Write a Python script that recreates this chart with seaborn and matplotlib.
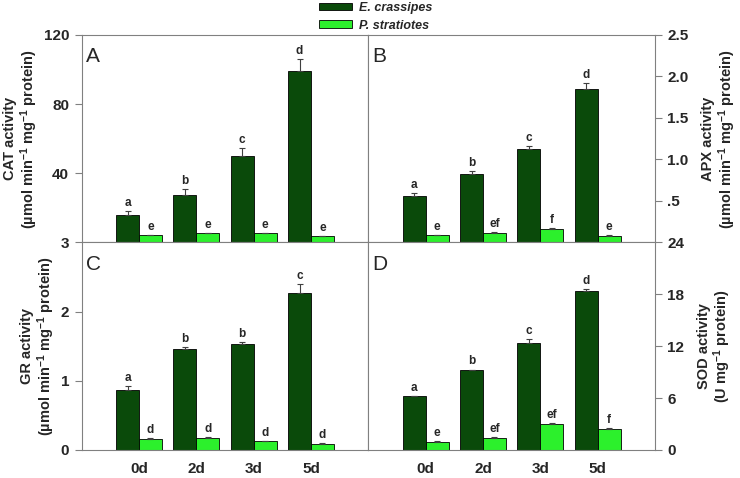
import numpy as np
import pandas as pd
import matplotlib
matplotlib.use("Agg")
import matplotlib.pyplot as plt
import seaborn as sns

days = ["0d", "2d", "3d", "5d"]
species = ["E. crassipes", "P. stratiotes"]

# CAT (panel A)
cat_ec = [16.1, 27.7, 50.3, 99.3]
cat_ec_err = [2.1, 3.1, 4.5, 6.8]
cat_ps = [4.1, 5.4, 5.4, 3.5]
cat_ps_err = [0.4, 0.3, 0.3, 0.2]
cat_ec_let = ["a", "b", "c", "d"]
cat_ps_let = ["e", "e", "e", "e"]

# APX (panel B)
apx_ec = [0.556, 0.831, 1.129, 1.855]
apx_ec_err = [0.041, 0.032, 0.028, 0.064]
apx_ps = [0.085, 0.117, 0.166, 0.077]
apx_ps_err = [0.010, 0.006, 0.005, 0.008]
apx_ec_let = ["a", "b", "c", "d"]
apx_ps_let = ["e", "ef", "f", "e"]

# GR (panel C)
gr_ec = [0.871, 1.461, 1.538, 2.264]
gr_ec_err = [0.058, 0.030, 0.025, 0.141]
gr_ps = [0.155, 0.179, 0.130, 0.092]
gr_ps_err = [0.015, 0.011, 0.005, 0.005]
gr_ec_let = ["a", "b", "b", "c"]
gr_ps_let = ["d", "d", "d", "d"]

# SOD (panel D)
sod_ec = [6.19, 9.21, 12.43, 18.35]
sod_ec_err = [0.05, 0.09, 0.43, 0.31]
sod_ps = [0.89, 1.36, 2.98, 2.40]
sod_ps_err = [0.16, 0.09, 0.12, 0.15]
sod_ec_let = ["a", "b", "c", "d"]
sod_ps_let = ["e", "ef", "ef", "f"]

dark = "#0a4a0a"
light = "#2cf02c"
spine_col = "#808080"

sns.set_theme(style="ticks")
plt.rcParams["font.family"] = ["Liberation Sans", "DejaVu Sans"]
plt.rcParams["font.weight"] = "bold"
plt.rcParams["mathtext.fontset"] = "custom"
plt.rcParams["mathtext.rm"] = "Liberation Sans:bold"
plt.rcParams["mathtext.it"] = "Liberation Sans:bold:italic"
plt.rcParams["mathtext.bf"] = "Liberation Sans:bold"

unit = r"(µmol min$^{-1}$ mg$^{-1}$ protein)"
panels = [
    dict(ec=cat_ec, ece=cat_ec_err, ps=cat_ps, pse=cat_ps_err, el=cat_ec_let, pl=cat_ps_let,
         ylim=(0, 120), ticks=[40, 80, 120], labels=["40", "80", "120"],
         ylabel="CAT activity\n" + unit, side="left", tag="A"),
    dict(ec=apx_ec, ece=apx_ec_err, ps=apx_ps, pse=apx_ps_err, el=apx_ec_let, pl=apx_ps_let,
         ylim=(0, 2.5), ticks=[0.5, 1.0, 1.5, 2.0, 2.5], labels=[".5", "1.0", "1.5", "2.0", "2.5"],
         ylabel="APX activity\n" + unit, side="right", tag="B"),
    dict(ec=gr_ec, ece=gr_ec_err, ps=gr_ps, pse=gr_ps_err, el=gr_ec_let, pl=gr_ps_let,
         ylim=(0, 3), ticks=[0, 1, 2, 3], labels=["0", "1", "2", "3"],
         ylabel="GR activity\n" + unit, side="left", tag="C"),
    dict(ec=sod_ec, ece=sod_ec_err, ps=sod_ps, pse=sod_ps_err, el=sod_ec_let, pl=sod_ps_let,
         ylim=(0, 24), ticks=[0, 6, 12, 18, 24], labels=["0", "6", "12", "18", "24"],
         ylabel="SOD activity\n" + r"(U mg$^{-1}$ protein)", side="right", tag="D"),
]

fig = plt.figure(figsize=(7.4, 4.78), dpi=100)
axes = fig.subplots(2, 2, gridspec_kw=dict(hspace=0, wspace=0)).ravel()
fig.subplots_adjust(left=0.1104, right=0.8851, top=0.9268, bottom=0.0586)

handles, labels = None, None
for i, (ax, p) in enumerate(zip(axes, panels)):
    df = pd.DataFrame({
        "day": days * 2,
        "species": [s for s in species for _ in days],
        "value": p["ec"] + p["ps"],
    })
    sns.barplot(data=df, x="day", y="value", hue="species", order=days, hue_order=species,
                palette=[dark, light], errorbar=None, width=0.8, edgecolor="black",
                linewidth=0.6, saturation=1, ax=ax, legend=(i == 0))
    if i == 0:
        handles, labels = ax.get_legend_handles_labels()
        ax.get_legend().remove()

    for cont, vals, errs, lets in zip(ax.containers, [p["ec"], p["ps"]], [p["ece"], p["pse"]], [p["el"], p["pl"]]):
        xs = [b.get_x() + b.get_width() / 2 for b in cont]
        ax.errorbar(xs, vals, yerr=[np.zeros(len(vals)), errs], fmt="none", ecolor="#404040",
                    elinewidth=0.8, capsize=2.5, capthick=0.8)
        for x, v, e, t in zip(xs, vals, errs, lets):
            ax.annotate(t, (x, v + e), xytext=(0, 1.5), textcoords="offset points",
                        ha="center", va="bottom", fontsize=8.5, fontweight="bold")

    ax.set_xlim(-1, 4)
    ax.set_ylim(*p["ylim"])
    ax.set_yticks(p["ticks"])
    ax.set_yticklabels(p["labels"])
    ax.set_xlabel("")
    for sp in ax.spines.values():
        sp.set_visible(True)
        sp.set_color(spine_col)
        sp.set_linewidth(0.8)
    ax.tick_params(axis="y", direction="out", length=5, width=0.8, color=spine_col,
                   labelsize=11, pad=4)
    ax.tick_params(axis="x", length=0, labelsize=11, pad=9)
    if i < 2:
        ax.tick_params(axis="x", labelbottom=False)
    if p["side"] == "right":
        ax.yaxis.tick_right()
        ax.yaxis.set_label_position("right")
        pad = 9
    else:
        pad = 3
    ax.set_ylabel(p["ylabel"], fontsize=10.5, fontweight="bold", linespacing=1.05, labelpad=pad)
    ax.text(0.015, 0.94, p["tag"], transform=ax.transAxes, fontsize=15, fontweight="normal",
            ha="left", va="top")

fig.legend(handles, labels, loc="upper left", bbox_to_anchor=(319 / 740, 0.996), frameon=False,
           prop=dict(style="italic", weight="bold", size=9), handlelength=2.6, handleheight=0.55,
           labelspacing=0.45, borderpad=0, borderaxespad=0, handletextpad=0.6)

fig.savefig("out.png", dpi=100)
